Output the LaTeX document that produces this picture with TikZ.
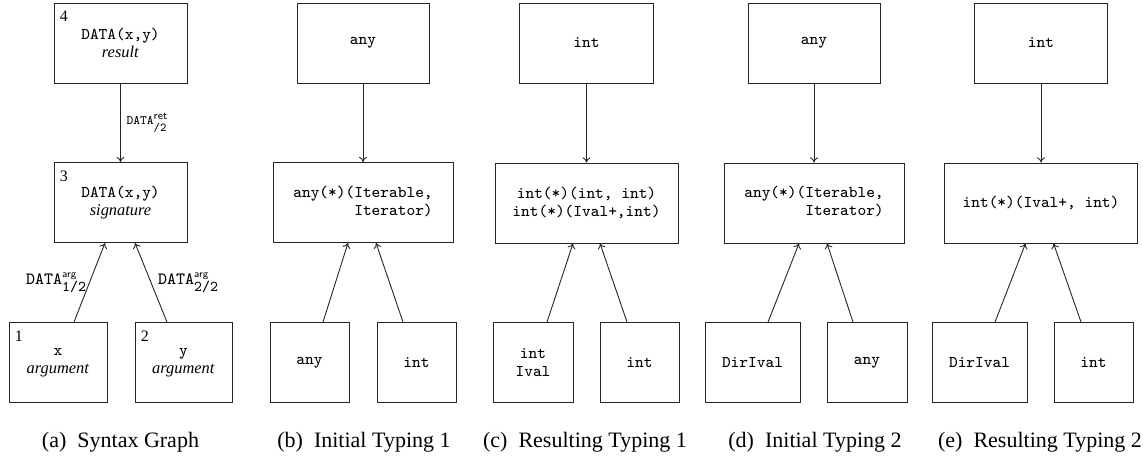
\documentclass[tikz,border=0pt]{standalone}
\usepackage{fontspec}
\IfFontExistsTF{LiberationSerif-Regular.ttf}
  {\setmainfont{LiberationSerif-Regular.ttf}[
     ItalicFont=LiberationSerif-Italic.ttf,
     BoldFont=LiberationSerif-Bold.ttf,
     BoldItalicFont=LiberationSerif-BoldItalic.ttf]}
  {\setmainfont{Liberation Serif}}
\usetikzlibrary{arrows.meta}

% font sizes used in the figure
\newcommand\boxfont{\fontsize{8.2}{9}\selectfont}
\newcommand\capfont{\fontsize{11}{13}\selectfont}
\newcommand\numfont{\fontsize{8}{9}\selectfont}

% edge tags: DATA with a sans superscript and a typewriter subscript
\newcommand\argtag[1]{{\fontsize{8.6}{10}\selectfont\ttfamily DATA}%
  \rlap{\raisebox{3.8pt}{\fontsize{5.2}{6}\selectfont\sffamily arg}}%
  \raisebox{-3.3pt}{\fontsize{7.5}{8}\selectfont\ttfamily #1}}
\newcommand\rettag{{\fontsize{6.4}{8}\selectfont\ttfamily DATA}%
  \rlap{\raisebox{2.6pt}{\fontsize{5.6}{6}\selectfont\sffamily ret}}%
  \raisebox{-3.6pt}{\fontsize{6}{7}\selectfont\ttfamily /2}}

\begin{document}
\begin{tikzpicture}[x=0.5pt,y=-0.5pt,
  box/.style={draw=black!85, line width=0.45pt, minimum height=40pt, inner sep=0pt,
    align=center, font=\boxfont},
  num/.style={anchor=north west, inner sep=0pt, font=\numfont,
    xshift=3pt, yshift=-4.2pt},
  arr/.style={-{To[length=2.6pt,width=4pt]}, draw=black!85, line width=0.45pt},
  tag/.style={inner sep=0pt},
  subcap/.style={anchor=base, inner sep=0pt, font=\capfont}]
\useasboundingbox (0,0) rectangle (1143,465);

% (a) syntax graph
\node[box, minimum width=66.5pt, label={[num]north west:4}] (a4) at (120.5,43)
  {\texttt{DATA(x,y)}\\\textit{result}};
\node[box, minimum width=66.5pt, label={[num]north west:3}] (a3) at (120.5,202.5)
  {\texttt{DATA(x,y)}\\\textit{signature}};
\node[box, minimum width=49pt, label={[num]north west:1}] (a1) at (58,362.5)
  {\texttt{x}\\\textit{argument}};
\node[box, minimum width=48.5pt, label={[num]north west:2}] (a2) at (183.5,362.5)
  {\texttt{y}\\\textit{argument}};
\draw[arr] (a4) -- node[tag, right, inner xsep=2.8pt] {\rettag} (a3);
\draw[arr] ([xshift=8pt]a1.north) -- node[tag, left, inner xsep=1.5pt] {\argtag{1/2}}
  ([xshift=-7.75pt]a3.south);
\draw[arr] ([xshift=-8.25pt]a2.north) -- node[tag, right, inner xsep=3.3pt] {\argtag{2/2}}
  ([xshift=7.25pt]a3.south);
\node[subcap] (capa) at (120.5,447) {(a)\hspace{0.5em}Syntax Graph};

% (b) initial typing 1
\node[box, minimum width=66pt] (b4) at (363,43) {\texttt{any}};
\node[box, minimum width=90pt, align=left] (b3) at (363,202.5)
  {\texttt{any(*)(Iterable,}\\\texttt{\phantom{any(*)(}Iterator)}};
\node[box, minimum width=39.5pt] (b1) at (309.5,362.5) {\texttt{any}};
\node[box, minimum width=39.5pt] (b2) at (416.5,362.5) {\texttt{int}};
\draw[arr] (b4) -- (b3);
\draw[arr] ([xshift=6.75pt]b1.north) -- ([xshift=-7.5pt]b3.south);
\draw[arr] ([xshift=-6.75pt]b2.north) -- ([xshift=6.5pt]b3.south);
\node[subcap] (capb) at (364,447) {(b)\hspace{0.5em}Initial Typing 1};

% (c) resulting typing 1
\node[box, minimum width=67pt] (c4) at (586.5,43) {\texttt{int}};
\node[box, minimum width=91.5pt] (c3) at (586.5,203)
  {\texttt{int(*)(int, int)}\\\texttt{int(*)(Ival+,int)}};
\node[box, minimum width=40pt] (c1) at (533,362.5) {\texttt{int}\\\texttt{Ival}};
\node[box, minimum width=39.5pt] (c2) at (639.5,362.5) {\texttt{int}};
\draw[arr] (c4) -- (c3);
\draw[arr] ([xshift=7pt]c1.north) -- ([xshift=-6.75pt]c3.south);
\draw[arr] ([xshift=-6.25pt]c2.north) -- ([xshift=6.75pt]c3.south);
\node[subcap] (capc) at (585,447) {(c)\hspace{0.5em}Resulting Typing 1};

% (d) initial typing 2
\node[box, minimum width=66pt] (d4) at (814,43) {\texttt{any}};
\node[box, minimum width=90pt, align=left] (d3) at (814,203)
  {\texttt{any(*)(Iterable,}\\\texttt{\phantom{any(*)(}Iterator)}};
\node[box, minimum width=47.5pt] (d1) at (752.5,362.5) {\texttt{DirIval}};
\node[box, minimum width=40pt] (d2) at (867,362.5) {\texttt{any}};
\draw[arr] (d4) -- (d3);
\draw[arr] ([xshift=7.75pt]d1.north) -- ([xshift=-7.5pt]d3.south);
\draw[arr] ([xshift=-7pt]d2.north) -- ([xshift=6.5pt]d3.south);
\node[subcap] (capd) at (815,447) {(d)\hspace{0.5em}Initial Typing 2};

% (e) resulting typing 2
\node[box, minimum width=66.5pt] (e4) at (1041,43) {\texttt{int}};
\node[box, minimum width=96.5pt] (e3) at (1041,203) {\texttt{int(*)(Ival+, int)}};
\node[box, minimum width=47.5pt] (e1) at (979.5,362.5) {\texttt{DirIval}};
\node[box, minimum width=39.5pt] (e2) at (1093.5,362.5) {\texttt{int}};
\draw[arr] (e4) -- (e3);
\draw[arr] ([xshift=7.75pt]e1.north) -- ([xshift=-7.75pt]e3.south);
\draw[arr] ([xshift=-6.25pt]e2.north) -- ([xshift=6.25pt]e3.south);
\node[subcap] (cape) at (1040,447) {(e)\hspace{0.5em}Resulting Typing 2};
\end{tikzpicture}
\end{document}
